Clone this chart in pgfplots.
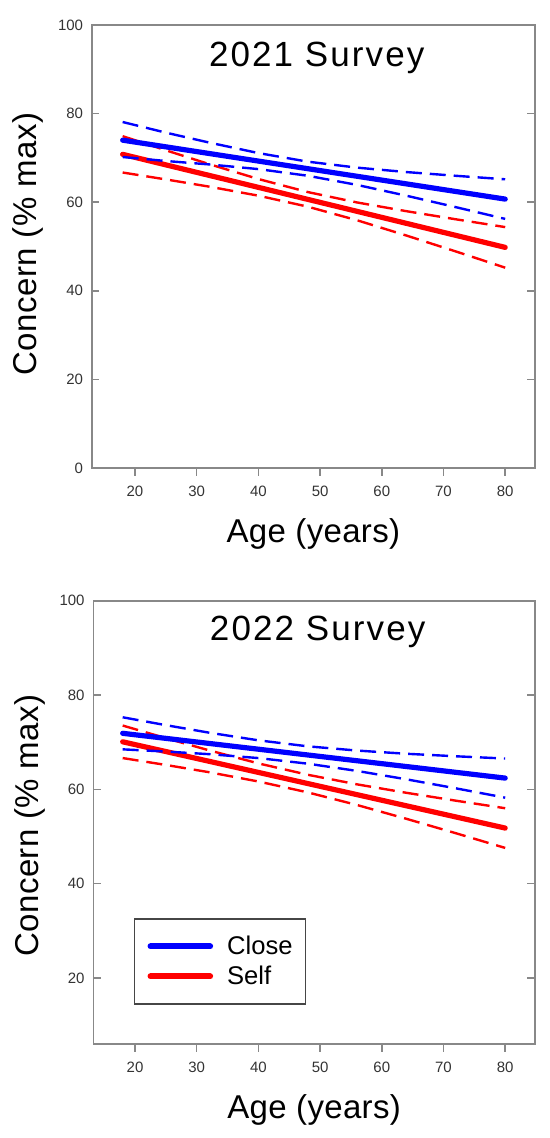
\documentclass[border=0pt]{standalone}
\usepackage{fontspec}
\setmainfont{Liberation Sans}
\usepackage{pgfplots}
\usepackage{pgfplotstable}
\pgfplotsset{compat=1.18}
\definecolor{tickc}{HTML}{333333}
\definecolor{axc}{HTML}{888888}
\definecolor{cblue}{HTML}{0000FF}
\definecolor{cred}{HTML}{FF0000}

% x, close upper, close lower, self upper, self lower
\pgfplotstableread{
x  cu    cl    su    sl
18 78.10 70.20 74.90 66.70
25 75.70 69.30 71.72 65.14
32 73.47 68.53 68.60 63.52
40 71.09 67.47 65.23 61.47
48 69.15 65.97 62.29 58.99
56 67.80 63.90 59.94 55.92
64 66.80 61.46 57.97 52.47
72 65.96 58.88 56.14 48.88
80 65.17 56.23 54.38 45.22
}\topdata
\pgfplotstableread{
x  cu    cl    su    sl
18 75.30 68.50 73.55 66.65
25 73.63 68.03 70.87 65.19
32 72.04 67.48 68.29 63.65
40 70.41 66.65 65.52 61.68
48 69.14 65.46 63.11 59.37
56 68.24 63.92 61.07 56.69
64 67.56 62.14 59.28 53.76
72 67.03 60.23 57.61 50.71
80 66.55 58.25 56.01 47.59
}\botdata

\pgfplotsset{
  myaxis/.style={
    scale only axis,
    xmax=84.83,
    xtick={20,30,40,50,60,70,80},
    axis line style={draw=axc, line width=0.75pt},
    tick style={draw=axc, line width=0.75pt},
    major tick length=3.8pt,
    tick align=inside,
    xtick pos=left, ytick pos=both, yticklabel pos=left,
    every major x tick/.append style={yshift=-3.8pt},
    /pgf/number format/assume math mode=true,
    ticklabel style={font=\fontsize{7.5}{9}\selectfont, text=tickc},
    xticklabel style={yshift=-5.3pt},
    yticklabel style={xshift=-0.85pt},
    title style={anchor=base, yshift=-6pt, font=\fontsize{17.5}{20}\selectfont\addfontfeature{LetterSpace=6}},
    xlabel style={at={(axis description cs:0.5,-0.1686)}, anchor=base, font=\fontsize{16.5}{18}\selectfont\addfontfeature{LetterSpace=1}},
    ylabel style={anchor=base, font=\fontsize{16.5}{18}\selectfont\addfontfeature{LetterSpace=1.5}},
    xlabel={Age (years)},
    ylabel={Concern (\% max)},
  },
  solidline/.style={line width=2.6pt, line cap=round},
  dashline/.style={line width=1.2pt, dash pattern=on 8pt off 4pt},
}

\begin{document}
\begin{tikzpicture}
\path[use as bounding box] (0,0) rectangle (275pt,-569pt);

% ---------- 2021 ----------
\begin{axis}[myaxis,
  at={(45.9pt,-234pt)}, anchor=south west,
  width=221.6pt, height=221.5pt,
  xmin=13, ymin=0, ymax=100,
  ytick={0,20,40,60,80,100},
  title={2021 Survey},
  title style={at={(axis description cs:0.5075,0.9074)}},
  ylabel style={at={(axis description cs:-0.1256,0.505)}},
]
\addplot[cred, dashline] table[x=x, y=su] {\topdata};
\addplot[cred, dashline] table[x=x, y=sl] {\topdata};
\addplot[cred, solidline] coordinates {(18,70.8) (80,49.8)};
\addplot[cblue, dashline] table[x=x, y=cu] {\topdata};
\addplot[cblue, dashline] table[x=x, y=cl] {\topdata};
\addplot[cblue, solidline] coordinates {(18,74.0) (80,60.7)};
\end{axis}

% ---------- 2022 ----------
\begin{axis}[myaxis,
  at={(46.65pt,-522pt)}, anchor=south west,
  width=220.85pt, height=221.6pt,
  xmin=13.24, ymin=6, ymax=100,
  ytick={20,40,60,80,100},
  title={2022 Survey},
  title style={at={(axis description cs:0.508,0.91)}},
  ylabel style={at={(axis description cs:-0.125,0.493)}},
  legend image code/.code={\draw[#1, line width=3pt, line cap=round] (1.5pt,0pt) -- (31.3pt,0pt);},
  legend cell align=left,
  legend style={
    at={(axis description cs:0.092,0.2836)}, anchor=north west,
    draw={rgb,255:red,70;green,70;blue,70}, line width=0.6pt,
    font=\fontsize{12.8}{15}\selectfont,
    inner xsep=6.5pt, inner ysep=8.5pt,
    row sep=4.5pt, column sep=7pt,
    nodes={inner sep=0pt, text height=9.5pt, text depth=1pt},
  },
]
\addlegendimage{cblue}
\addlegendentry{Close}
\addlegendimage{cred}
\addlegendentry{Self}
\addplot[cred, dashline, forget plot] table[x=x, y=su] {\botdata};
\addplot[cred, dashline, forget plot] table[x=x, y=sl] {\botdata};
\addplot[cred, solidline, forget plot] coordinates {(18,70.1) (80,51.8)};
\addplot[cblue, dashline, forget plot] table[x=x, y=cu] {\botdata};
\addplot[cblue, dashline, forget plot] table[x=x, y=cl] {\botdata};
\addplot[cblue, solidline, forget plot] coordinates {(18,71.9) (80,62.4)};
\end{axis}
\end{tikzpicture}
\end{document}
